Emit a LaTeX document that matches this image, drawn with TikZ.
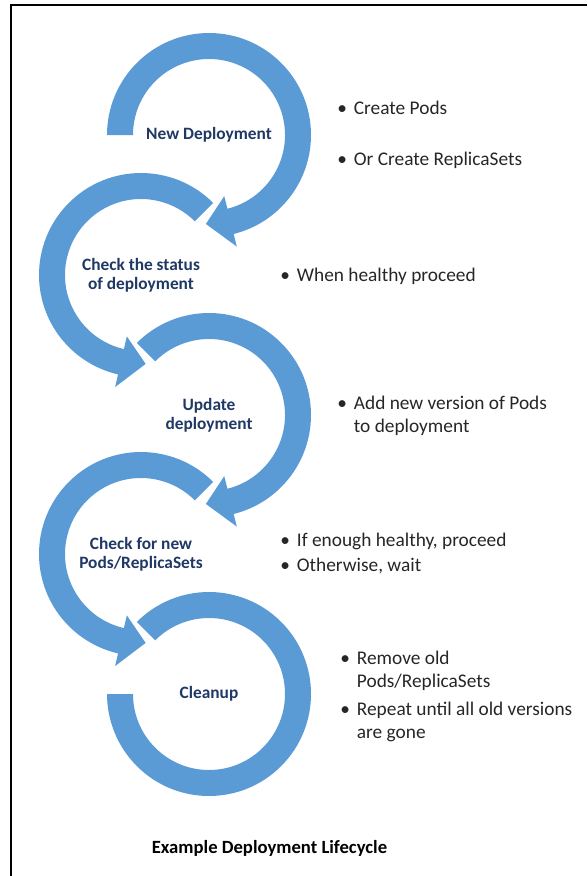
\documentclass[tikz,border=0pt]{standalone}
\usepackage{fontspec}
\setmainfont{Carlito}
\usetikzlibrary{calc}
\definecolor{ringblue}{HTML}{5B9BD5}
\definecolor{navy}{HTML}{1F3864}
\newcommand\bl{\makebox[12.5pt][l]{\textbullet}}
\newcommand\ind{\hspace*{12.5pt}}
\begin{document}
\begin{tikzpicture}[x=0.75pt,y=0.75pt,
  ring/.style={fill=ringblue},
  steplabel/.style={font=\fontsize{13}{14}\selectfont\bfseries,text=navy,align=center,inner sep=0},
  note/.style={font=\fontsize{14.5}{17.25}\selectfont,text=black!85,align=left,anchor=west,inner sep=0},
  frame/.style={line width=1.5pt}]
\useasboundingbox (0,0) rectangle (587,-876);
\draw[frame] (587,-5.2) -- (11.3,-5.2) -- (11.3,-876);

% steps of the cycle
\node[steplabel] (c1) at (209,-135) {New Deployment};
\node[steplabel] (c2) at (141,-275) {Check the status\\of deployment};
\node[steplabel] (c3) at (209,-415) {Update\\deployment};
\node[steplabel] (c4) at (141,-554) {Check for new\\Pods/ReplicaSets};
\node[steplabel] (c5) at (209,-694) {Cleanup};

% ring arrows
\foreach \c/\s/\e/\t in {c1/180/-76/-92, c2/45/257/273, c3/135/-76/-92, c4/45/257/273}
  \fill[ring] ($(\c)+(\s:102)$) arc[start angle=\s,end angle=\e,radius=102]
    -- ($(\c)+(\e:115)$) -- ($(\c)+(\t:89)$) -- ($(\c)+(\e:63)$)
    -- ($(\c)+(\e:76)$) arc[start angle=\e,end angle=\s,radius=76] -- cycle;
\fill[ring] ($(c5)+(135:102)$) arc[start angle=135,end angle=-180,radius=102]
  -- ($(c5)+(180:76)$) arc[start angle=-180,end angle=135,radius=76] -- cycle;

% notes
\node[note] (n1) at (337,-108) {\bl Create Pods};
\node[note] (n2) at (337,-160) {\bl Or Create ReplicaSets};
\node[note] (n3) at (280,-276) {\bl When healthy proceed};
\node[note] (n4) at (337,-415.5) {\bl Add new version of Pods\\\ind to deployment};
\node[note] (n5) at (280,-541) {\bl If enough healthy, proceed};
\node[note] (n6) at (280,-566) {\bl Otherwise, wait};
\node[note] (n7) at (340,-670.5) {\bl Remove old\\\ind Pods/ReplicaSets};
\node[note] (n8) at (340,-721.5) {\bl Repeat until all old versions\\\ind are gone};

\node[font=\fontsize{14}{17}\selectfont\bfseries,inner sep=0] (title) at (269.5,-848) {Example Deployment Lifecycle};
\end{tikzpicture}
\end{document}
